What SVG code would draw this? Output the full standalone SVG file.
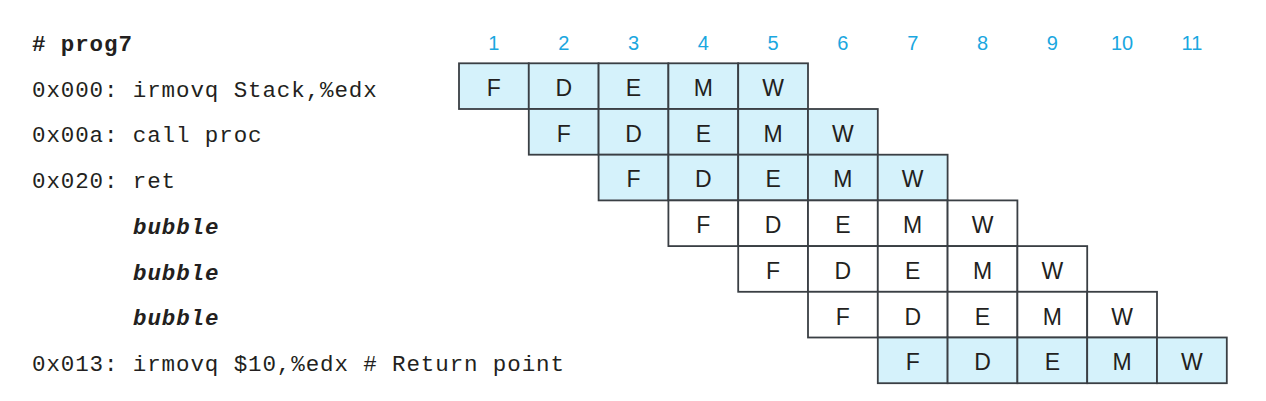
<svg xmlns="http://www.w3.org/2000/svg" width="1266" height="401" viewBox="0 0 1266 401">
<style>
.bg{fill:#ffffff}
.c{stroke:#3a3f44;stroke-width:1.8;fill:#ffffff}
.s{fill:#d5f2fb}
.l{font-family:"Liberation Sans",Arial,sans-serif;font-size:23px;fill:#231f20;text-anchor:middle}
.n{font-family:"Liberation Sans",Arial,sans-serif;font-size:20px;fill:#1aa7e0;text-anchor:middle}
.t{font-family:"Liberation Mono","DejaVu Sans Mono",monospace;font-size:22.5px;letter-spacing:0.9px;fill:#231f20}
.b{font-family:"Liberation Mono","DejaVu Sans Mono",monospace;font-size:22.5px;letter-spacing:0.9px;font-weight:bold;font-style:italic;fill:#231f20}
</style>
<rect class="bg" x="0" y="0" width="1266" height="401"/>
<g id="header">
<text class="t" x="32" y="51" font-weight="bold">#&#160;prog7</text>
<text class="n" x="493.9" y="50">1</text>
<text class="n" x="563.7" y="50">2</text>
<text class="n" x="633.5" y="50">3</text>
<text class="n" x="703.3" y="50">4</text>
<text class="n" x="773.1" y="50">5</text>
<text class="n" x="842.9" y="50">6</text>
<text class="n" x="912.7" y="50">7</text>
<text class="n" x="982.5" y="50">8</text>
<text class="n" x="1052.3" y="50">9</text>
<text class="n" x="1122.1" y="50">10</text>
<text class="n" x="1191.9" y="50">11</text>
</g>
<g id="row1">
<text class="t" x="32" y="96.7">0x000:&#160;irmovq&#160;Stack,%edx</text>
<rect class="c s" x="459" y="63.3" width="69.8" height="45.7"/>
<rect class="c s" x="528.8" y="63.3" width="69.8" height="45.7"/>
<rect class="c s" x="598.6" y="63.3" width="69.8" height="45.7"/>
<rect class="c s" x="668.4" y="63.3" width="69.8" height="45.7"/>
<rect class="c s" x="738.2" y="63.3" width="69.8" height="45.7"/>
<text class="l" x="493.9" y="96">F</text>
<text class="l" x="563.7" y="96">D</text>
<text class="l" x="633.5" y="96">E</text>
<text class="l" x="703.3" y="96">M</text>
<text class="l" x="773.1" y="96">W</text>
</g>
<g id="row2">
<text class="t" x="32" y="142.4">0x00a:&#160;call&#160;proc</text>
<rect class="c s" x="528.8" y="109" width="69.8" height="45.7"/>
<rect class="c s" x="598.6" y="109" width="69.8" height="45.7"/>
<rect class="c s" x="668.4" y="109" width="69.8" height="45.7"/>
<rect class="c s" x="738.2" y="109" width="69.8" height="45.7"/>
<rect class="c s" x="808" y="109" width="69.8" height="45.7"/>
<text class="l" x="563.7" y="141.7">F</text>
<text class="l" x="633.5" y="141.7">D</text>
<text class="l" x="703.3" y="141.7">E</text>
<text class="l" x="773.1" y="141.7">M</text>
<text class="l" x="842.9" y="141.7">W</text>
</g>
<g id="row3">
<text class="t" x="32" y="188.1">0x020:&#160;ret</text>
<rect class="c s" x="598.6" y="154.7" width="69.8" height="45.7"/>
<rect class="c s" x="668.4" y="154.7" width="69.8" height="45.7"/>
<rect class="c s" x="738.2" y="154.7" width="69.8" height="45.7"/>
<rect class="c s" x="808" y="154.7" width="69.8" height="45.7"/>
<rect class="c s" x="877.8" y="154.7" width="69.8" height="45.7"/>
<text class="l" x="633.5" y="187.4">F</text>
<text class="l" x="703.3" y="187.4">D</text>
<text class="l" x="773.1" y="187.4">E</text>
<text class="l" x="842.9" y="187.4">M</text>
<text class="l" x="912.7" y="187.4">W</text>
</g>
<g id="row4">
<text class="b" x="133" y="233.8">bubble</text>
<rect class="c" x="668.4" y="200.4" width="69.8" height="45.7"/>
<rect class="c" x="738.2" y="200.4" width="69.8" height="45.7"/>
<rect class="c" x="808" y="200.4" width="69.8" height="45.7"/>
<rect class="c" x="877.8" y="200.4" width="69.8" height="45.7"/>
<rect class="c" x="947.6" y="200.4" width="69.8" height="45.7"/>
<text class="l" x="703.3" y="233.1">F</text>
<text class="l" x="773.1" y="233.1">D</text>
<text class="l" x="842.9" y="233.1">E</text>
<text class="l" x="912.7" y="233.1">M</text>
<text class="l" x="982.5" y="233.1">W</text>
</g>
<g id="row5">
<text class="b" x="133" y="279.5">bubble</text>
<rect class="c" x="738.2" y="246.1" width="69.8" height="45.7"/>
<rect class="c" x="808" y="246.1" width="69.8" height="45.7"/>
<rect class="c" x="877.8" y="246.1" width="69.8" height="45.7"/>
<rect class="c" x="947.6" y="246.1" width="69.8" height="45.7"/>
<rect class="c" x="1017.4" y="246.1" width="69.8" height="45.7"/>
<text class="l" x="773.1" y="278.8">F</text>
<text class="l" x="842.9" y="278.8">D</text>
<text class="l" x="912.7" y="278.8">E</text>
<text class="l" x="982.5" y="278.8">M</text>
<text class="l" x="1052.3" y="278.8">W</text>
</g>
<g id="row6">
<text class="b" x="133" y="325.2">bubble</text>
<rect class="c" x="808" y="291.8" width="69.8" height="45.7"/>
<rect class="c" x="877.8" y="291.8" width="69.8" height="45.7"/>
<rect class="c" x="947.6" y="291.8" width="69.8" height="45.7"/>
<rect class="c" x="1017.4" y="291.8" width="69.8" height="45.7"/>
<rect class="c" x="1087.2" y="291.8" width="69.8" height="45.7"/>
<text class="l" x="842.9" y="324.5">F</text>
<text class="l" x="912.7" y="324.5">D</text>
<text class="l" x="982.5" y="324.5">E</text>
<text class="l" x="1052.3" y="324.5">M</text>
<text class="l" x="1122.1" y="324.5">W</text>
</g>
<g id="row7">
<text class="t" x="32" y="370.9">0x013:&#160;irmovq&#160;$10,%edx&#160;#&#160;Return&#160;point</text>
<rect class="c s" x="877.8" y="337.5" width="69.8" height="45.7"/>
<rect class="c s" x="947.6" y="337.5" width="69.8" height="45.7"/>
<rect class="c s" x="1017.4" y="337.5" width="69.8" height="45.7"/>
<rect class="c s" x="1087.2" y="337.5" width="69.8" height="45.7"/>
<rect class="c s" x="1157" y="337.5" width="69.8" height="45.7"/>
<text class="l" x="912.7" y="370.2">F</text>
<text class="l" x="982.5" y="370.2">D</text>
<text class="l" x="1052.3" y="370.2">E</text>
<text class="l" x="1122.1" y="370.2">M</text>
<text class="l" x="1191.9" y="370.2">W</text>
</g>
<g id="connectors"></g>
</svg>
